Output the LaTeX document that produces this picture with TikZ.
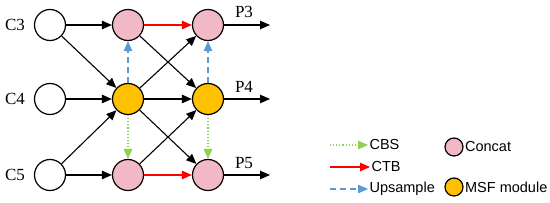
\documentclass[tikz,border=0pt]{standalone}
\usepackage{fontspec}
\setmainfont{Liberation Serif}
\setsansfont{Liberation Sans}
\usetikzlibrary{arrows.meta,positioning,calc}
\definecolor{pinkc}{HTML}{F2B8C6}
\definecolor{msfc}{HTML}{FFC000}
\definecolor{upc}{HTML}{5B9BD5}
\definecolor{cbsc}{HTML}{92D050}

\begin{document}
\begin{tikzpicture}[
  x=1pt,y=-1pt,
  node/.style={circle,draw,line width=1.2pt,minimum size=31pt,inner sep=0pt},
  concat/.style={node,fill=pinkc},
  msf/.style={node,fill=msfc},
  lab/.style={font=\fontsize{17}{17}\selectfont},
  leg/.style={font=\sffamily\fontsize{14.5}{14.5}\selectfont,anchor=west,inner sep=1pt},
  updash/.style={upc,dash pattern=on 6pt off 4pt},
  ->,>={Triangle[length=10pt,width=8.5pt]},line width=1.1pt]
  \useasboundingbox (0,0) rectangle (550,203);
  % inputs
  \node[node](C3) at(50,25){};
  \node[node](C4) at(50,99){};
  \node[node](C5) at(50,175){};
  \node[lab] at(15,25){C3};
  \node[lab] at(15,99){C4};
  \node[lab] at(15,175){C5};
  % first column
  \node[concat](A) at(128,25){};
  \node[msf](B) at(128,99){};
  \node[concat](D) at(128,175){};
  % second column
  \node[concat](E) at(208,25){};
  \node[msf](F) at(208,99){};
  \node[concat](G) at(208,175){};
  % outputs
  \coordinate(O3) at(270,25);
  \coordinate(O4) at(270,99);
  \coordinate(O5) at(270,175);
  \node[lab] at(244,12){P3};
  \node[lab] at(244,87){P4};
  \node[lab] at(244,163){P5};
  \draw(C3)--(A);\draw(C3)--(B);\draw(C4)--(B);
  \draw(C5)--(B);\draw(C5)--(D);
  \draw(A)--(F);\draw(B)--(E);\draw(B)--(F);
  \draw(B)--(G);\draw(D)--(F);
  \draw(E)--(O3);\draw(F)--(O4);\draw(G)--(O5);
  \draw[red](A)--(E);\draw[red](D)--(G);
  \draw[updash](B)--(A);\draw[updash](F)--(E);
  \draw[cbsc,dotted](B)--(D);\draw[cbsc,dotted](F)--(G);
  % legend
  \coordinate(L1) at(330,145);\coordinate(L2) at(330,167);\coordinate(L3) at(330,189);
  \node[leg](T1) at(368,145){CBS};
  \node[leg](T2) at(370,167){CTB};
  \node[leg](T3) at(368,189){Upsample};
  \draw[cbsc,dotted](L1)--(T1.west);
  \draw[red](L2)--(T2.west);
  \draw[updash](L3)--(T3.west);
  \node[concat,minimum size=18pt](K1) at(454,147){};
  \node[msf,minimum size=18pt](K2) at(454,187){};
  \node[leg] at(K1.east){Concat};
  \node[leg] at(K2.east){MSF module};
\end{tikzpicture}
\end{document}
